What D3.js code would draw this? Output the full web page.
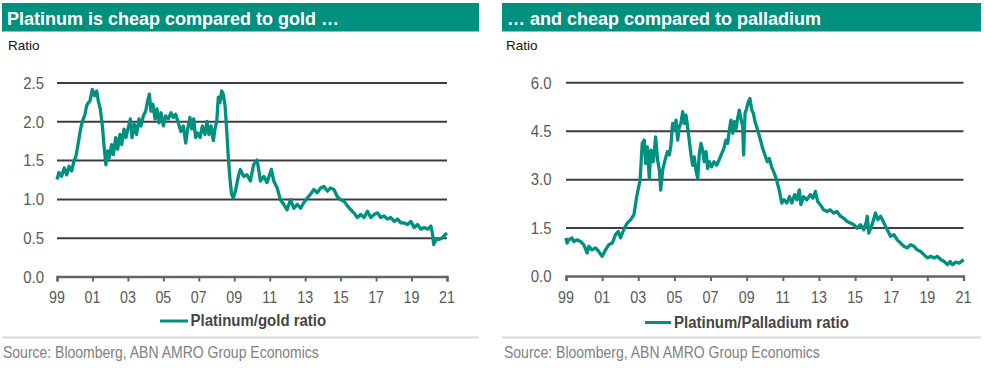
<!DOCTYPE html>
<html><head><meta charset="utf-8">
<script src="https://cdn.jsdelivr.net/npm/d3@7"></script>
<style>
body{margin:0;background:#fff}
svg{display:block}
text{font-family:"Liberation Sans",Arial,sans-serif}
</style>
</head><body>
<svg id="chart" width="984" height="369"></svg>
<script>
// ---------- data ----------
const xTickYears = [1999,2001,2003,2005,2007,2009,2011,2013,2015,2017,2019,2021];
const xTickLabels = ['99','01','03','05','07','09','11','13','15','17','19','21'];

const goldTicks = [0,0.5,1,1.5,2,2.5];
const goldTickLabels = ['0.0','0.5','1.0','1.5','2.0','2.5'];
const pallTicks = [0,1.5,3,4.5,6];
const pallTickLabels = ['0.0','1.5','3.0','4.5','6.0'];

// Platinum / gold ratio (decimal year, ratio)
const goldYears = [
  1999.00,1999.11,1999.26,1999.41,1999.55,1999.68,1999.83,1999.96,
  2000.07,2000.20,2000.33,2000.43,2000.58,2000.67,2000.77,2000.86,2000.99,
  2001.11,2001.24,2001.33,2001.44,2001.56,2001.67,2001.76,2001.86,2001.95,
  2002.08,2002.18,2002.31,2002.42,2002.55,2002.65,2002.78,2002.89,
  2003.02,2003.14,2003.23,2003.36,2003.49,2003.62,2003.74,2003.87,
  2004.00,2004.11,2004.21,2004.30,2004.41,2004.53,2004.64,2004.75,2004.87,
  2005.00,2005.13,2005.28,2005.43,2005.56,2005.69,2005.84,2005.99,
  2006.13,2006.26,2006.37,2006.50,2006.60,2006.71,2006.82,2006.93,
  2007.07,2007.20,2007.35,2007.46,2007.57,2007.69,2007.82,2007.91,
  2008.01,2008.10,2008.19,2008.29,2008.38,2008.48,2008.57,2008.66,2008.76,2008.85,2008.95,
  2009.06,2009.25,2009.34,2009.53,2009.72,2009.91,
  2010.09,2010.28,2010.38,2010.47,2010.66,2010.85,
  2011.09,2011.23,2011.42,2011.60,2011.79,2011.98,
  2012.17,2012.36,2012.55,2012.74,2012.92,
  2013.11,2013.30,2013.49,2013.68,2013.87,
  2014.06,2014.25,2014.43,2014.62,2014.81,
  2015.00,2015.19,2015.38,2015.57,2015.75,2015.94,
  2016.13,2016.32,2016.51,2016.70,2016.89,
  2017.08,2017.26,2017.45,2017.64,2017.83,
  2018.02,2018.21,2018.40,2018.58,2018.77,2018.96,
  2019.15,2019.34,2019.53,2019.72,2019.91,
  2020.09,2020.19,2020.25,2020.38,2020.57,2020.75,2020.89,2021.00];
const goldRatio = [
  1.25,1.34,1.29,1.40,1.31,1.42,1.36,1.49,
  1.55,1.72,1.90,2.00,2.09,2.20,2.24,2.26,2.41,
  2.33,2.39,2.26,2.16,1.94,1.64,1.44,1.62,1.53,
  1.70,1.57,1.79,1.64,1.83,1.70,1.90,1.79,
  1.92,2.03,1.79,1.96,1.83,2.03,1.94,2.07,
  2.13,2.26,2.35,2.13,2.22,2.03,2.16,1.98,2.11,
  1.94,2.07,2.03,2.11,2.05,2.09,1.98,1.87,
  1.94,1.72,1.90,2.05,1.90,2.03,1.79,1.85,
  1.79,1.94,1.83,2.00,1.83,1.94,1.75,1.90,
  2.00,2.31,2.24,2.39,2.35,2.20,1.90,1.55,1.25,1.06,1.01,
  1.10,1.31,1.38,1.29,1.31,1.23,
  1.44,1.50,1.38,1.23,1.29,1.21,
  1.38,1.23,1.14,0.99,0.93,0.86,
  0.99,0.88,0.93,0.88,0.95,
  1.01,1.06,1.12,1.08,1.14,
  1.16,1.10,1.14,1.12,1.03,
  0.99,0.97,0.91,0.86,0.82,0.76,
  0.80,0.76,0.84,0.76,0.80,
  0.82,0.76,0.78,0.74,0.76,
  0.71,0.74,0.69,0.69,0.67,0.71,
  0.63,0.67,0.61,0.63,0.61,
  0.65,0.54,0.41,0.48,0.48,0.50,0.54,0.56];

// Platinum / palladium ratio (decimal year, ratio)
const pallYears = [
  1999.00,1999.06,1999.15,1999.33,1999.43,1999.61,1999.80,1999.98,
  2000.17,2000.26,2000.44,2000.63,2000.81,
  2001.00,2001.19,2001.37,2001.56,2001.74,2001.89,
  2002.02,2002.20,2002.39,2002.57,2002.76,2002.91,
  2003.10,2003.22,2003.33,2003.41,2003.50,2003.61,2003.70,2003.83,2003.96,
  2004.07,2004.17,2004.24,2004.35,2004.48,2004.61,2004.72,2004.81,2004.90,2004.99,
  2005.09,2005.18,2005.27,2005.36,2005.46,2005.55,2005.64,2005.73,2005.82,2005.92,
  2006.01,2006.10,2006.19,2006.29,2006.38,2006.47,2006.56,2006.65,2006.75,2006.84,2006.93,
  2007.06,2007.19,2007.34,2007.47,2007.62,2007.74,2007.85,2007.95,
  2008.04,2008.13,2008.23,2008.32,2008.41,2008.50,2008.59,2008.68,2008.78,2008.83,2008.91,
  2009.00,2009.09,2009.18,2009.28,2009.37,2009.46,2009.61,2009.74,2009.86,
  2010.01,2010.14,2010.25,2010.38,2010.53,2010.66,2010.80,2010.94,
  2011.07,2011.22,2011.37,2011.50,2011.65,2011.78,2011.91,
  2012.00,2012.15,2012.33,2012.52,2012.67,2012.80,2012.93,
  2013.07,2013.26,2013.44,2013.63,2013.81,
  2014.00,2014.19,2014.37,2014.56,2014.74,2014.93,
  2015.11,2015.30,2015.48,2015.63,2015.67,2015.76,2015.94,
  2016.13,2016.26,2016.41,2016.56,2016.69,2016.83,2016.96,
  2017.15,2017.33,2017.52,2017.70,2017.89,
  2018.07,2018.26,2018.44,2018.63,2018.81,
  2019.00,2019.19,2019.37,2019.56,2019.74,2019.93,
  2020.11,2020.26,2020.39,2020.57,2020.76,2020.89,2021.00];
const pallRatio = [
  1.18,1.02,1.12,1.18,1.07,1.12,1.07,0.97,
  0.71,0.92,0.81,0.87,0.76,
  0.61,0.81,0.97,1.02,1.28,1.38,
  1.18,1.44,1.64,1.74,1.90,2.45,
  2.97,4.11,4.21,3.49,4.00,3.02,3.90,3.54,4.31,
  3.59,3.28,2.66,3.28,3.59,3.85,3.75,4.06,4.73,4.52,
  4.83,4.21,4.62,4.73,5.09,4.73,4.98,4.62,4.21,3.75,
  3.43,3.69,3.28,3.02,3.80,4.11,3.90,3.54,3.85,3.33,3.54,
  3.38,3.54,3.43,3.59,3.80,3.95,4.21,4.11,
  4.52,4.83,4.42,4.78,4.57,4.88,5.14,4.88,4.62,3.75,5.04,
  5.19,5.40,5.50,5.14,5.04,4.78,4.52,4.26,4.00,
  3.75,3.54,3.64,3.38,3.18,2.97,2.66,2.26,
  2.36,2.26,2.46,2.26,2.52,2.36,2.67,
  2.21,2.46,2.36,2.52,2.41,2.62,2.31,
  2.21,2.05,2.00,2.05,1.95,
  2.00,1.85,1.79,1.69,1.64,1.59,
  1.48,1.59,1.43,1.69,1.85,1.33,1.59,
  1.95,1.74,1.85,1.69,1.53,1.38,1.23,
  1.28,1.12,1.02,0.92,0.87,
  0.97,0.92,0.81,0.76,0.66,
  0.56,0.61,0.56,0.61,0.51,0.45,
  0.35,0.45,0.35,0.43,0.40,0.45,0.51];

const titles = ['Platinum is cheap compared to gold \u2026', '\u2026 and cheap compared to palladium'];
const legendLabels = ['Platinum/gold ratio', 'Platinum/Palladium ratio'];
const yAxisTitle = 'Ratio';
const sourceText = 'Source: Bloomberg, ABN AMRO Group Economics';

// ---------- styling / layout ----------
const TEAL = '#00907f';
const svg = d3.select('#chart');

function stretchedText(g, x, y, str, size, opts = {}) {
  const sy = opts.sy || 1;
  return g.append('text')
    .attr('transform', `translate(${x},${y}) scale(1,${sy})`)
    .attr('font-size', size)
    .attr('font-weight', opts.weight || 'normal')
    .attr('fill', opts.fill || '#000')
    .attr('text-anchor', opts.anchor || 'start')
    .text(str);
}

const panels = [
  { bx0: 2, bx1: 479, tx: 7, rx: 8, px0: 57, px1: 447, py0: 276.5, py1: 82.5,
    ymax: 2.5, ticks: goldTicks, tickLabels: goldTickLabels, labelX: 44,
    years: goldYears, vals: goldRatio, title: titles[0], legend: legendLabels[0],
    lx0: 160, lx1: 188, ly: 321, ltx: 190.5, lty: 326.3, srcX: 3 },
  { bx0: 502, bx1: 981, tx: 507, rx: 506, px0: 566, px1: 963.5, py0: 276, py1: 82.3,
    ymax: 6, ticks: pallTicks, tickLabels: pallTickLabels, labelX: 551.5,
    years: pallYears, vals: pallRatio, title: titles[1], legend: legendLabels[1],
    lx0: 645, lx1: 671, ly: 322.5, ltx: 674, lty: 327.8, srcX: 504 }
];

panels.forEach(p => {
  const g = svg.append('g');
  // title bar
  g.append('rect').attr('x', p.bx0).attr('y', 3).attr('width', p.bx1 - p.bx0).attr('height', 28.5).attr('fill', TEAL);
  g.append('text').attr('x', p.tx).attr('y', 25).attr('font-size', 18).attr('font-weight', 'bold')
    .attr('fill', '#fff').text(p.title);
  // axis title
  g.append('text').attr('x', p.rx).attr('y', 50).attr('font-size', 13.5).attr('fill', '#111').text(yAxisTitle);

  const x = d3.scaleLinear().domain([1999, 2021]).range([p.px0, p.px1]);
  const y = d3.scaleLinear().domain([0, p.ymax]).range([p.py0, p.py1]);

  // gridlines
  const grid = g.append('g').attr('transform', `translate(${p.px0},0)`)
    .call(d3.axisLeft(y).tickValues(p.ticks.filter(t => t > 0)).tickSize(-(p.px1 - p.px0)).tickFormat(''));
  grid.select('.domain').remove();
  grid.selectAll('.tick line').attr('stroke', '#3d3d3d').attr('stroke-width', 2);

  // y tick labels
  p.ticks.forEach((t, i) => {
    stretchedText(g, p.labelX, y(t) + 6.2, p.tickLabels[i], 15, { anchor: 'end', fill: '#595959', sy: 1.12 });
  });

  // series line
  const data = p.years.map((yr, i) => [yr, p.vals[i]]);
  g.append('path').datum(data)
    .attr('fill', 'none').attr('stroke', TEAL).attr('stroke-width', 3.3).attr('stroke-linejoin', 'round')
    .attr('d', d3.line().x(d => x(d[0])).y(d => y(d[1])));

  // x axis
  const xa = g.append('g').attr('transform', `translate(0,${p.py0})`)
    .call(d3.axisBottom(x).tickValues(xTickYears).tickSize(5).tickSizeOuter(5).tickFormat(''));
  xa.select('.domain').attr('stroke', '#5b676a').attr('stroke-width', 2.3);
  xa.selectAll('.tick line').attr('stroke', '#5b676a').attr('stroke-width', 2);

  xTickYears.forEach((yr, i) => {
    stretchedText(g, x(yr), 302.5, xTickLabels[i], 14.3, { anchor: 'middle', fill: '#595959', sy: 1.15 });
  });

  // legend
  g.append('line').attr('x1', p.lx0).attr('x2', p.lx1).attr('y1', p.ly).attr('y2', p.ly)
    .attr('stroke', TEAL).attr('stroke-width', 3);
  stretchedText(g, p.ltx, p.lty, p.legend, 15, { weight: 'bold', fill: '#454545', sy: 1.12 });

  // separator + source
  g.append('line').attr('x1', p.bx0).attr('x2', p.bx1).attr('y1', 337.5).attr('y2', 337.5)
    .attr('stroke', '#dadada').attr('stroke-width', 2);
  stretchedText(g, p.srcX, 358, sourceText, 14, { fill: '#808080', sy: 1.15 });
});
</script>
</body></html>
